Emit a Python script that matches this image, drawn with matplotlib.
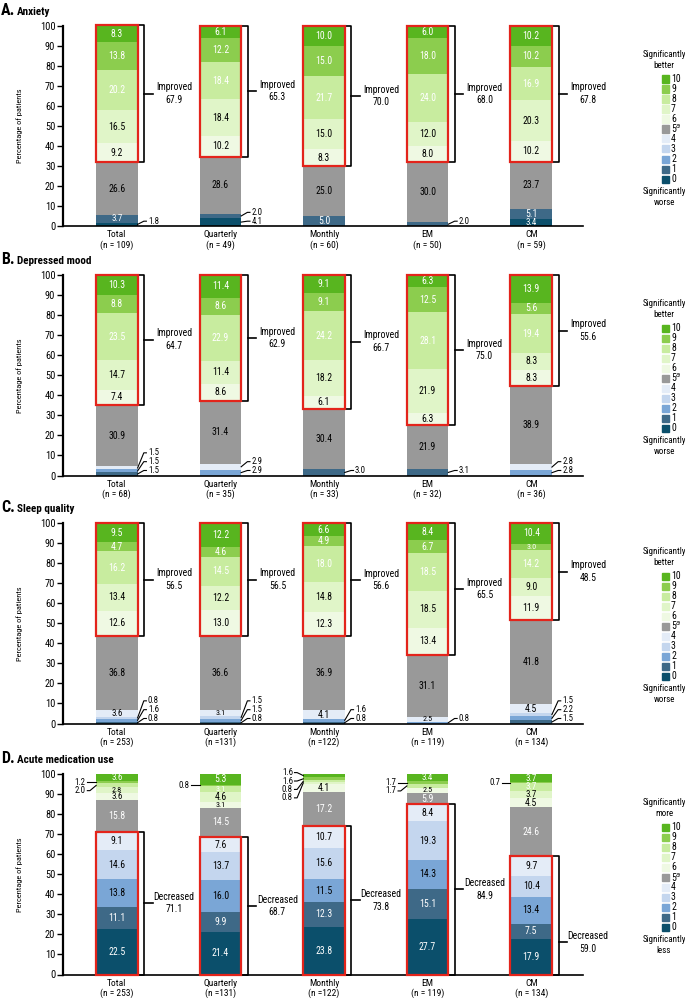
import matplotlib.pyplot as plt
from matplotlib.patches import Rectangle
import numpy as np

plt.rcParams['font.family'] = ['Roboto Condensed', 'Archivo Narrow', 'DejaVu Sans Condensed',
                               'Roboto', 'DejaVu Sans']

groups = ['Total', 'Quarterly', 'Monthly', 'EM', 'CM']
n_a = ['(n = 109)', '(n = 49)', '(n = 60)', '(n = 50)', '(n = 59)']
n_b = ['(n = 68)', '(n = 35)', '(n = 33)', '(n = 32)', '(n = 36)']
n_c = ['(n = 253)', '(n =131)', '(n =122)', '(n = 119)', '(n = 134)']
n_d = ['(n = 253)', '(n =131)', '(n =122)', '(n = 119)', '(n = 134)']

# columns are the scores 0..10, rows are the groups
anxiety = np.array([
    [1.8, 3.7, 0, 0, 0, 26.6, 9.2, 16.5, 20.2, 13.8, 8.3],
    [4.1, 2.0, 0, 0, 0, 28.6, 10.2, 18.4, 18.4, 12.2, 6.1],
    [0, 5.0, 0, 0, 0, 25.0, 8.3, 15.0, 21.7, 15.0, 10.0],
    [0, 2.0, 0, 0, 0, 30.0, 8.0, 12.0, 24.0, 18.0, 6.0],
    [3.4, 5.1, 0, 0, 0, 23.7, 10.2, 20.3, 16.9, 10.2, 10.2],
])
mood = np.array([
    [0, 1.5, 1.5, 0, 1.5, 30.9, 7.4, 14.7, 23.5, 8.8, 10.3],
    [0, 0, 2.9, 0, 2.9, 31.4, 8.6, 11.4, 22.9, 8.6, 11.4],
    [0, 3.0, 0, 0, 0, 30.4, 6.1, 18.2, 24.2, 9.1, 9.1],
    [0, 3.1, 0, 0, 0, 21.9, 6.3, 21.9, 28.1, 12.5, 6.3],
    [0, 0, 2.8, 0, 2.8, 38.9, 8.3, 8.3, 19.4, 5.6, 13.9],
])
sleep = np.array([
    [0, 0.8, 1.6, 0.8, 3.6, 36.8, 12.6, 13.4, 16.2, 4.7, 9.5],
    [0, 0.8, 1.5, 1.5, 3.1, 36.6, 13.0, 12.2, 14.5, 4.6, 12.2],
    [0, 0.8, 1.6, 0, 4.1, 36.9, 12.3, 14.8, 18.0, 4.9, 6.6],
    [0, 0, 0.8, 0, 2.5, 31.1, 13.4, 18.5, 18.5, 6.7, 8.4],
    [0, 1.5, 2.2, 1.5, 4.5, 41.8, 11.9, 9.0, 14.2, 3.0, 10.4],
])
medication = np.array([
    [22.5, 11.1, 13.8, 14.6, 9.1, 15.8, 3.6, 2.8, 2.0, 1.2, 3.6],
    [21.4, 9.9, 16.0, 13.7, 7.6, 14.5, 3.1, 4.6, 3.1, 0.8, 5.3],
    [23.8, 12.3, 11.5, 15.6, 10.7, 17.2, 4.1, 0.8, 0.8, 1.6, 1.6],
    [27.7, 15.1, 14.3, 19.3, 8.4, 5.9, 2.5, 0, 1.7, 1.7, 3.4],
    [17.9, 7.5, 13.4, 10.4, 9.7, 24.6, 4.5, 3.7, 3.7, 0.7, 3.7],
])

improved_a = ['67.9', '65.3', '70.0', '68.0', '67.8']
improved_b = ['64.7', '62.9', '66.7', '75.0', '55.6']
improved_c = ['56.5', '56.5', '56.6', '65.5', '48.5']
decreased_d = ['71.1', '68.7', '73.8', '84.9', '59.0']

# segments labelled outside the bar (group, score)
outside_a = [(0, 0), (1, 0), (1, 1), (3, 1)]
outside_b = [(0, 1), (0, 2), (0, 4), (1, 2), (1, 4), (2, 1), (3, 1), (4, 2), (4, 4)]
outside_c = [(0, 1), (0, 2), (0, 3), (1, 1), (1, 2), (1, 3), (2, 1), (2, 2),
             (3, 2), (4, 1), (4, 2), (4, 3)]
outside_d = [(0, 8), (0, 9), (1, 9), (2, 7), (2, 8), (2, 9), (2, 10), (3, 8), (3, 9), (4, 9)]

colors = ['#0b4f6b', '#3e6987', '#7aa6d6', '#c4d6ee', '#e4ecf7', '#999999',
          '#eff9e3', '#e0f5c8', '#c8ec9f', '#8ccd4e', '#58b51f']
score_labels = ['0', '1', '2', '3', '4', '5$^{a}$', '6', '7', '8', '9', '10']

panels = [
    ('A.', 'Anxiety', anxiety, n_a, improved_a, outside_a, 'Improved', 'better', 'worse'),
    ('B.', 'Depressed mood', mood, n_b, improved_b, outside_b, 'Improved', 'better', 'worse'),
    ('C.', 'Sleep quality', sleep, n_c, improved_c, outside_c, 'Improved', 'better', 'worse'),
    ('D.', 'Acute medication use', medication, n_d, decreased_d, outside_d, 'Decreased', 'more', 'less'),
]
tops = [25.7, 275, 523, 774]   # pixel row of the 100 % line
H = 200.5
L, W = 63, 520

fig = plt.figure(figsize=(6.85, 10), dpi=100)
x = np.arange(len(groups))
w = 0.4
fs = 7
fs_small = 6.3

for p, (letter, title, vals, nlab, totals, outside, word, top_word, bot_word) in enumerate(panels):
    top = tops[p]
    ax = fig.add_axes([L / 685, 1 - (top + H) / 1000, W / 685, H / 1000])
    is_med = (p == 3)

    bottom = np.zeros(len(groups))
    for c in range(11):
        ax.bar(x, vals[:, c], w, bottom=bottom, color=colors[c], edgecolor='none', zorder=2)
        bottom += vals[:, c]

    for g in range(len(groups)):
        cum = np.concatenate([[0], np.cumsum(vals[g])])
        for c in range(11):
            v = vals[g, c]
            if v <= 0 or (g, c) in outside:
                continue
            white = c in (0, 1, 8, 9, 10) or (is_med and c == 5)
            if v > 4:
                size = fs
            elif v >= 3.4:
                size = 6.4
            else:
                size = 5.8
            ax.text(g, cum[c] + v / 2, f'{v:.1f}', ha='center', va='center', fontsize=size,
                    color='white' if white else 'black', zorder=4)

        # small segments on the right, stacked upwards
        prev = -100
        for c in [c for c in range(5) if (g, c) in outside]:
            mid = cum[c] + vals[g, c] / 2
            ly = max(mid, 2.5, prev + 4.4)
            prev = ly
            e = g + w / 2
            ax.plot([e, e + 0.06, e + 0.085], [mid, ly, ly], color='black', lw=0.8,
                    clip_on=False, zorder=3)
            ax.text(e + 0.1, ly, f'{vals[g, c]:.1f}', ha='left', va='center', fontsize=fs_small)
        # small segments at the top on the left, stacked downwards
        prev = 200
        top_out = [c for c in range(10, 5, -1) if (g, c) in outside]
        for c in top_out:
            mid = cum[c] + vals[g, c] / 2
            ly = min(mid + (1.5 if len(top_out) > 2 else 0), prev - 4.2)
            prev = ly
            e = g - w / 2
            ax.plot([e, e - 0.06, e - 0.085], [mid, ly, ly], color='black', lw=0.8,
                    clip_on=False, zorder=3)
            ax.text(e - 0.1, ly, f'{vals[g, c]:.1f}', ha='right', va='center', fontsize=fs_small)

        # red box and bracket
        if is_med:
            y0, y1 = 0, cum[5]
        else:
            y0, y1 = cum[6], cum[11]
        ax.add_patch(Rectangle((g - w / 2, y0), w, y1 - y0, fill=False, ec='#e3241b',
                               lw=1.6, zorder=5, clip_on=False))
        e = g + w / 2
        bx = e + 0.065
        ax.plot([e, bx, bx, e], [y1, y1, y0, y0], color='black', lw=1.2,
                clip_on=False, zorder=3)
        ym = (y0 + y1) / 2
        if is_med and g == 4:
            ym = 16  # label pushed down in the original
        ax.plot([bx, e + 0.145], [ym, ym], color='black', lw=1.2, clip_on=False)
        ax.text(e + 0.35, ym, f'{word}\n{totals[g]}', ha='center', va='center',
                fontsize=fs, linespacing=1.3)

    ax.set_xlim(-0.52, 4.5)
    ax.set_ylim(0, 100)
    ax.set_yticks(np.arange(0, 101, 10))
    ax.set_xticks(x)
    ax.set_xticklabels([f'{a}\n{b}' for a, b in zip(groups, nlab)], fontsize=6.8, linespacing=1.1)
    ax.tick_params(axis='x', length=0, pad=3)
    ax.tick_params(axis='y', length=4, width=1, pad=1.5, labelsize=7.5)
    for s in ['top', 'right']:
        ax.spines[s].set_visible(False)
    ax.spines['left'].set_linewidth(1.6)
    ax.spines['bottom'].set_linewidth(1.2)
    ax.set_ylabel('Percentage of patients', fontsize=6)
    ax.yaxis.set_label_coords((23 - L) / W, 0.5)

    # legend
    lx = (661.5 - L) / W
    for k, c in enumerate(range(10, -1, -1)):
        ay = 1 - (53.3 + k * 10) / H
        ax.add_patch(Rectangle((lx, ay - 3.5 / H), 7 / W, 7 / H, transform=ax.transAxes,
                               color=colors[c], clip_on=False))
        ax.text((671 - L) / W, ay, score_labels[c], transform=ax.transAxes,
                fontsize=7, va='center')
    ax.text((664 - L) / W, 1 - 34.3 / H, f'Significantly\n{top_word}', transform=ax.transAxes,
            ha='center', va='center', fontsize=6.5, linespacing=1.3)
    ax.text((664 - L) / W, 1 - 171 / H, f'Significantly\n{bot_word}', transform=ax.transAxes,
            ha='center', va='center', fontsize=6.5, linespacing=1.3)

    fig.text(1 / 685, 1 - (top - 11) / 1000, letter, fontsize=11.5, weight='bold', va='baseline')
    fig.text(17 / 685, 1 - (top - 11) / 1000, title, fontsize=8, weight='bold', va='baseline')

fig.savefig('out.png', dpi=100)
